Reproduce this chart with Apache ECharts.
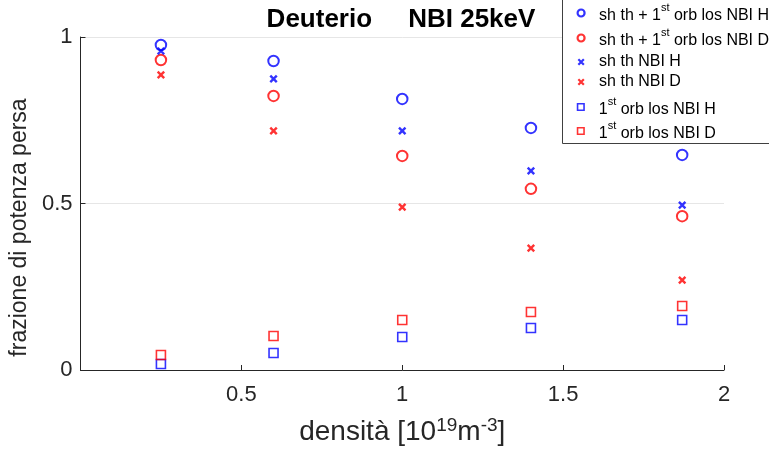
<!DOCTYPE html>
<html><head><meta charset="utf-8">
<script src="https://cdn.jsdelivr.net/npm/echarts@6/dist/echarts.min.js"></script>
<style>html,body{margin:0;padding:0;background:#fff}#c{width:769px;height:460px}</style>
</head><body><div id="c"></div>
<script>
const densita = [0.25, 0.6, 1.0, 1.4, 1.87];
const shOrbH = [0.976, 0.928, 0.814, 0.727, 0.646];
const shOrbD = [0.931, 0.823, 0.643, 0.544, 0.462];
const shH = [0.958, 0.874, 0.718, 0.598, 0.495];
const shD = [0.886, 0.718, 0.489, 0.366, 0.270];
const orbH = [0.018, 0.051, 0.099, 0.126, 0.150];
const orbD = [0.045, 0.102, 0.150, 0.174, 0.192];
const xTicks = [0.5, 1, 1.5, 2];
const yTicks = [0, 0.5, 1];

const names = [
  'sh th + 1st orb los NBI H',
  'sh th + 1st orb los NBI D',
  'sh th NBI H',
  'sh th NBI D',
  '1st orb los NBI H',
  '1st orb los NBI D'
];
const legendLabels = [
  '{g| }{a|sh th + 1}{s|st}{a| orb los NBI H}',
  '{g| }{a|sh th + 1}{s|st}{a| orb los NBI D}',
  '{h| }{p|sh th NBI H}',
  '{h| }{p|sh th NBI D}',
  '{g| }{a|1}{s|st}{a| orb los NBI H}',
  '{g| }{a|1}{s|st}{a| orb los NBI D}'
];
const BLUE = '#0000ff', RED = '#ff0000';
const cross = 'path://M0,0 L10,10 M10,0 L0,10';
const kinds = ['o','o','x','x','s','s'];
const colors = [BLUE, RED, BLUE, RED, BLUE, RED];
const values = [shOrbH, shOrbD, shH, shD, orbH, orbD];

function pts(v){ return densita.map((x,i)=>[x, v[i]]); }
function mk(i){
  const color = colors[i], kind = kinds[i];
  let s = {name:names[i], type:'scatter', data: pts(values[i]), z: 2};
  if (kind==='o'){ s.symbol='circle'; s.symbolSize=10.5; s.itemStyle={color:'transparent', borderColor:color, borderWidth:2}; }
  if (kind==='x'){ s.symbol=cross; s.symbolSize=6.5; s.itemStyle={color:'transparent', borderColor:color, borderWidth:2.4}; }
  if (kind==='s'){ s.symbol='rect'; s.symbolSize=9; s.itemStyle={color:'transparent', borderColor:color, borderWidth:1.6}; }
  return s;
}
const legendTops = [2, 27, 54, 74, 96, 120];
const iconSize = {o:7, x:5.5, s:6.5};
const iconBorder = {o:2.2, x:2.2, s:1.6};
const legends = names.map((n,i)=>{
  const off = (7-iconSize[kinds[i]])/2;
  return {
    data:[n], orient:'vertical', left:576.5 + off, top:legendTops[i], padding:0, z:6,
    itemWidth:iconSize[kinds[i]], itemHeight:iconSize[kinds[i]],
    itemStyle:{borderWidth:iconBorder[kinds[i]]},
    formatter: () => legendLabels[i],
    selectedMode:false,
    textStyle:{color:'#000', rich:{
      g:{width:9.5 + off, fontSize:16, lineHeight:22, verticalAlign:'bottom'},
      h:{width:9.5 + off, fontSize:16, lineHeight:16, verticalAlign:'bottom'},
      a:{fontSize:16, fontFamily:'Liberation Sans', color:'#000', lineHeight:22, verticalAlign:'bottom'},
      s:{fontSize:11, fontFamily:'Liberation Sans', color:'#000', lineHeight:22, verticalAlign:'top'},
      p:{fontSize:16, fontFamily:'Liberation Sans', color:'#000', lineHeight:16, verticalAlign:'bottom'}
    }}
  };
});

const chart = echarts.init(document.getElementById('c'), null, {renderer:'canvas'});
chart.setOption({
  animation:false,
  backgroundColor:'#fff',
  textStyle:{fontFamily:'Liberation Sans'},
  title:{text:'Deuterio     NBI 25keV', left:396, textAlign:'center', top:2,
    textStyle:{fontFamily:'Liberation Sans', fontWeight:'bold', fontSize:26, color:'#000'}},
  grid:{left:80, right:45, top:37, bottom:90},
  legend:legends,
  graphic:[{type:'rect', z:5, shape:{x:562.5, y:-2, width:220, height:145.5},
    style:{fill:'#fff', stroke:'#404040', lineWidth:1}}],
  xAxis:{type:'value', min:0, max:2, interval:0.5,
    name:'{t|densità [10}{s|19}{t|m}{s|-3}{t|]}', nameLocation:'middle', nameGap:44,
    nameTextStyle:{rich:{
      t:{fontSize:28, fontFamily:'Liberation Sans', color:'#262626', lineHeight:30, verticalAlign:'bottom', padding:[7,0,0,0]},
      s:{fontSize:19, fontFamily:'Liberation Sans', color:'#262626', lineHeight:19, verticalAlign:'top'}
    }},
    axisLine:{onZero:false, lineStyle:{color:'#262626', width:1}},
    axisTick:{inside:true, length:5, lineStyle:{color:'#262626'}},
    axisLabel:{fontSize:22, color:'#262626', margin:14, formatter:v=> xTicks.includes(v)? String(v):''},
    splitLine:{show:false}
  },
  yAxis:{type:'value', min:0, max:1, interval:0.5,
    name:'frazione di potenza persa', nameLocation:'middle', nameGap:42,
    nameTextStyle:{fontSize:23, fontFamily:'Liberation Sans', color:'#262626', padding:[0,48,0,0]},
    axisLine:{show:true, lineStyle:{color:'#262626', width:1}},
    axisTick:{show:true, inside:true, length:5, lineStyle:{color:'#262626'}},
    axisLabel:{fontSize:22, color:'#262626', margin:8, formatter:v=> yTicks.includes(v)? String(v):''},
    splitLine:{show:true, lineStyle:{color:'#e6e6e6', width:1}}
  },
  series: names.map((n,i)=>mk(i))
});
</script></body></html>
